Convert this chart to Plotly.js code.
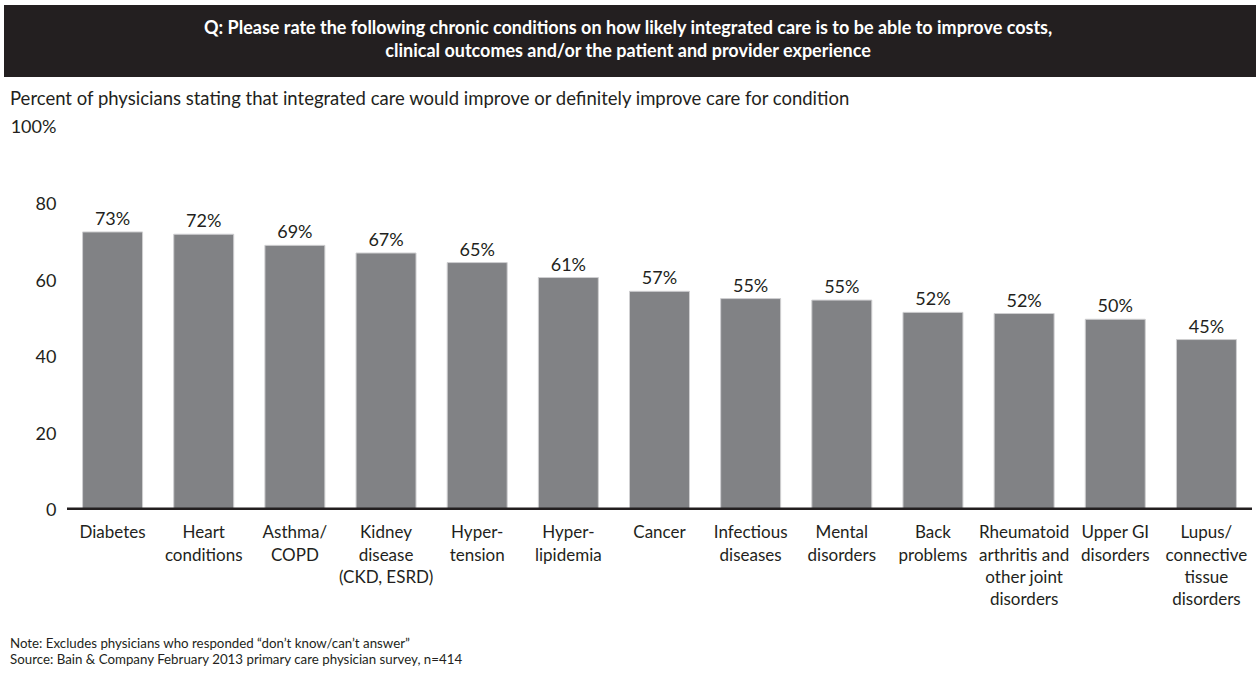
<!DOCTYPE html>
<html>
<head>
<meta charset="utf-8">
<script src="https://cdn.plot.ly/plotly-3.0.1.min.js"></script>
<style>
  html, body { margin: 0; padding: 0; background: #ffffff; }
  #chart { width: 1256px; height: 673px; }
</style>
</head>
<body>
<div id="chart"></div>
<script>
// ---- Data ----
const categories = [
  "Diabetes",
  "Heart<br>conditions",
  "Asthma/<br>COPD",
  "Kidney<br>disease<br>(CKD, ESRD)",
  "Hyper-<br>tension",
  "Hyper-<br>lipidemia",
  "Cancer",
  "Infectious<br>diseases",
  "Mental<br>disorders",
  "Back<br>problems",
  "Rheumatoid<br>arthritis and<br>other joint<br>disorders",
  "Upper GI<br>disorders",
  "Lupus/<br>connective<br>tissue<br>disorders"
];
const values = [72.6, 72.0, 69.1, 67.1, 64.6, 60.7, 57.1, 55.2, 54.8, 51.6, 51.3, 49.8, 44.5];
const valueLabels = ["73%", "72%", "69%", "67%", "65%", "61%", "57%", "55%", "55%", "52%", "52%", "50%", "45%"];
const yTickVals = [0, 20, 40, 60, 80, 100];
const yTickText = ["0", "20", "40", "60", "80", "100%"];

const headerText = "Q: Please rate the following chronic conditions on how likely integrated care is to be able to improve costs,<br>clinical outcomes and/or the patient and provider experience";
const subtitleText = "Percent of physicians stating that integrated care would improve or definitely improve care for condition";
const noteText = "Note: Excludes physicians who responded \u201cdon\u2019t know/can\u2019t answer\u201d";
const sourceText = "Source: Bain & Company February 2013 primary care physician survey, n=414";

// ---- Styling ----
const FONT = "Lato, 'Open Sans', sans-serif";
const INK = "#231f20";
const BAR = "#818285";

const W = 1256, H = 673;
const M = { l: 67, r: 4, t: 127, b: 163 };
const PW = W - M.l - M.r, PH = H - M.t - M.b;
const px = x => (x - M.l) / PW;          // pixel x -> paper x
const py = y => (H - M.b - y) / PH;      // pixel y -> paper y

const trace = {
  type: "bar",
  x: categories,
  y: values,
  text: valueLabels,
  textposition: "outside",
  texttemplate: "%{text}",
  textfont: { family: FONT, size: 18, color: INK },
  cliponaxis: false,
  marker: { color: BAR, line: { color: "#cfcfd1", width: 1 } },
  hoverinfo: "skip"
};

const layout = {
  width: W, height: H,
  margin: M,
  paper_bgcolor: "#ffffff",
  plot_bgcolor: "#ffffff",
  showlegend: false,
  bargap: 0.342,
  font: { family: FONT, size: 18, color: INK },
  xaxis: {
    type: "category",
    range: [-0.5, 12.5],
    showgrid: false, zeroline: false, showline: false,
    ticks: "outside", ticklen: 7, tickcolor: "rgba(0,0,0,0)",
    tickfont: { family: FONT, size: 17, color: INK },
    fixedrange: true
  },
  yaxis: {
    range: [0, 100],
    tickmode: "array",
    tickvals: yTickVals,
    ticktext: yTickText,
    showgrid: false, zeroline: false, showline: false,
    ticks: "outside", ticklen: 6, tickcolor: "rgba(0,0,0,0)",
    tickfont: { family: FONT, size: 18, color: INK },
    fixedrange: true
  },
  shapes: [
    { type: "rect", xref: "paper", yref: "paper",
      x0: px(4), x1: px(1256), y0: py(77), y1: py(5),
      fillcolor: INK, line: { width: 0 }, layer: "below" },
    { type: "line", xref: "paper", yref: "y",
      x0: 0, x1: 1, y0: 0, y1: 0,
      line: { color: INK, width: 5 }, layer: "above" }
  ],
  annotations: [
    { xref: "paper", yref: "paper", x: px(628), y: py(38.5),
      xanchor: "center", yanchor: "middle", showarrow: false, align: "center",
      text: "<b>" + headerText + "</b>",
      font: { family: FONT, size: 18, color: "#ffffff" } },
    { xref: "paper", yref: "paper", x: px(8), y: py(98),
      xanchor: "left", yanchor: "middle", showarrow: false, align: "left",
      text: subtitleText,
      font: { family: FONT, size: 18.5, color: INK } },
    { xref: "paper", yref: "paper", x: px(8), y: py(643),
      xanchor: "left", yanchor: "middle", showarrow: false, align: "left",
      text: noteText,
      font: { family: FONT, size: 13.3, color: INK } },
    { xref: "paper", yref: "paper", x: px(8), y: py(659),
      xanchor: "left", yanchor: "middle", showarrow: false, align: "left",
      text: sourceText,
      font: { family: FONT, size: 13.3, color: INK } }
  ]
};

Plotly.newPlot("chart", [trace], layout, { displayModeBar: false, staticPlot: true });
</script>
</body>
</html>
